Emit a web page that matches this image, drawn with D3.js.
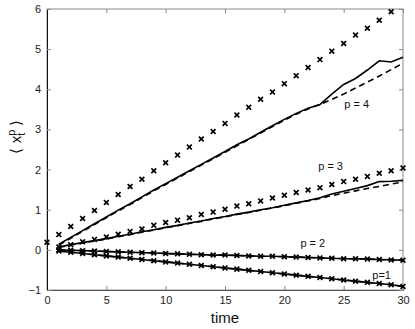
<!DOCTYPE html>
<html>
<head>
<meta charset="utf-8">
<script src="https://cdn.jsdelivr.net/npm/d3@7"></script>
<style>
  body { margin: 0; background: #ffffff; }
  text { font-family: "Liberation Sans", Arial, sans-serif; }
</style>
</head>
<body>
<div class="chart"></div>
<script>
// Values.
const timeSteps = d3.range(1, 31);
const crossTimesP4 = d3.range(0, 30);
const crossesP4 = [0.19, 0.38, 0.58, 0.78, 0.98, 1.18, 1.38, 1.58, 1.76, 1.97,
  2.17, 2.36, 2.56, 2.76, 2.95, 3.15, 3.36, 3.55, 3.75, 3.93,
  4.14, 4.34, 4.54, 4.74, 4.95, 5.14, 5.35, 5.52, 5.72, 5.93];
const crossesP3 = [0.07, 0.13, 0.20, 0.26, 0.32, 0.39, 0.46, 0.52, 0.61, 0.68,
  0.74, 0.80, 0.88, 0.94, 1.01, 1.09, 1.15, 1.22, 1.29, 1.36,
  1.43, 1.49, 1.55, 1.63, 1.70, 1.76, 1.83, 1.91, 1.97, 2.04];
const solidP4 = [0.14, 0.31, 0.48, 0.65, 0.82, 0.99, 1.15, 1.32, 1.49, 1.65,
  1.81, 1.97, 2.13, 2.29, 2.45, 2.62, 2.76, 2.93, 3.09, 3.25,
  3.40, 3.53, 3.62, 3.88, 4.12, 4.27, 4.48, 4.71, 4.68, 4.80];
const dashedP4 = [0.12, 0.29, 0.46, 0.63, 0.80, 0.97, 1.13, 1.30, 1.47, 1.63,
  1.79, 1.95, 2.11, 2.27, 2.43, 2.59, 2.75, 2.91, 3.07, 3.23,
  3.38, 3.51, 3.62, 3.75, 3.88, 4.03, 4.18, 4.33, 4.49, 4.65];
const solidP3 = [0.07, 0.13, 0.18, 0.23, 0.28, 0.34, 0.39, 0.45, 0.50, 0.56,
  0.61, 0.67, 0.72, 0.78, 0.83, 0.89, 0.94, 1.00, 1.05, 1.11,
  1.17, 1.23, 1.30, 1.39, 1.46, 1.53, 1.60, 1.70, 1.71, 1.73];
const dashedP3 = [0.06, 0.12, 0.17, 0.22, 0.27, 0.33, 0.38, 0.44, 0.49, 0.55,
  0.60, 0.66, 0.71, 0.77, 0.82, 0.88, 0.93, 0.99, 1.04, 1.10,
  1.16, 1.22, 1.28, 1.35, 1.41, 1.47, 1.53, 1.58, 1.64, 1.69];
const valuesP2 = [0.00, -0.01, -0.02, -0.03, -0.04, -0.05, -0.06, -0.07, -0.08, -0.09,
  -0.10, -0.11, -0.12, -0.13, -0.13, -0.14, -0.15, -0.16, -0.16, -0.17,
  -0.18, -0.19, -0.20, -0.21, -0.22, -0.22, -0.23, -0.24, -0.25, -0.26];
const valuesP1 = [-0.03, -0.06, -0.09, -0.12, -0.15, -0.18, -0.21, -0.24, -0.27, -0.30,
  -0.33, -0.36, -0.39, -0.42, -0.45, -0.48, -0.51, -0.54, -0.57, -0.60,
  -0.63, -0.66, -0.69, -0.72, -0.75, -0.78, -0.81, -0.84, -0.87, -0.91];
const xTicks = [0, 5, 10, 15, 20, 25, 30];
const yTicks = [-1, 0, 1, 2, 3, 4, 5, 6];
const curveLabels = [
  { text: "p = 4", t: 26.1, v: 3.53 },
  { text: "p = 3", t: 23.9, v: 1.98 },
  { text: "p = 2", t: 22.4, v: 0.07 },
  { text: "p=1", t: 28.2, v: -0.73 }
];

const width = 415, height = 329;
const margin = { top: 9, right: 12, bottom: 39, left: 47 };

const svg = d3.select(".chart")
  .append("svg")
  .attr("width", width)
  .attr("height", height)
  .attr("viewBox", [0, 0, width, height]);

const x = d3.scaleLinear().domain([0, 30]).range([margin.left, width - margin.right]);
const y = d3.scaleLinear().domain([-1, 6]).range([height - margin.bottom, margin.top]);

// Box around the plot area, MATLAB style.
svg.append("rect")
  .attr("x", x(0)).attr("y", y(6))
  .attr("width", x(30) - x(0))
  .attr("height", y(-1) - y(6))
  .attr("fill", "none")
  .attr("stroke", "#8a8a8a")
  .attr("stroke-width", 1);

// Axes with inward ticks on all four sides.
const tickLen = 4;
svg.append("g")
  .attr("transform", `translate(0,${y(-1)})`)
  .call(d3.axisBottom(x).tickValues(xTicks).tickSize(-tickLen).tickPadding(6).tickFormat(d3.format("d")))
  .call(g => g.select(".domain").attr("stroke", "#555"));
svg.append("g")
  .attr("transform", `translate(0,${y(6)})`)
  .call(d3.axisTop(x).tickValues(xTicks).tickSize(-tickLen).tickFormat(""))
  .call(g => g.select(".domain").remove());
svg.append("g")
  .attr("transform", `translate(${x(0)},0)`)
  .call(d3.axisLeft(y).tickValues(yTicks).tickSize(-tickLen).tickPadding(6)
    .tickFormat(d => d < 0 ? "\u2212" + Math.abs(d) : d))
  .call(g => g.select(".domain").attr("stroke", "#111"));
svg.append("g")
  .attr("transform", `translate(${x(30)},0)`)
  .call(d3.axisRight(y).tickValues(yTicks).tickSize(-tickLen).tickFormat(""))
  .call(g => g.select(".domain").remove());

svg.selectAll(".tick line").attr("stroke", "#8a8a8a");
svg.selectAll(".tick text")
  .attr("font-size", "11px")
  .attr("fill", "#222")
  .attr("font-family", "Liberation Sans, Arial, sans-serif");

// Solid and dashed curves.
const line = d3.line()
  .x((d, i) => x(timeSteps[i]))
  .y(d => y(d));
const curves = [
  { values: dashedP4, dash: "6,4" },
  { values: solidP4, dash: null },
  { values: dashedP3, dash: "6,4" },
  { values: solidP3, dash: null },
  { values: valuesP2, dash: "6,4" },
  { values: valuesP2, dash: null },
  { values: valuesP1, dash: "6,4" },
  { values: valuesP1, dash: null }
];
curves.forEach(c => {
  svg.append("path")
    .datum(c.values)
    .attr("fill", "none")
    .attr("stroke", "#000")
    .attr("stroke-width", 1.6)
    .attr("stroke-dasharray", c.dash)
    .attr("d", line);
});

// Cross markers.
const crossSets = [
  { times: crossTimesP4, values: crossesP4 },
  { times: timeSteps, values: crossesP3 },
  { times: timeSteps, values: valuesP2 },
  { times: timeSteps, values: valuesP1 }
];
const s = 2.4;
crossSets.forEach(set => {
  svg.append("g")
    .selectAll("path")
    .data(set.values)
    .join("path")
    .attr("transform", (d, i) => `translate(${x(set.times[i])},${y(d)})`)
    .attr("d", `M${-s},${-s}L${s},${s}M${-s},${s}L${s},${-s}`)
    .attr("stroke", "#000")
    .attr("stroke-width", 1.7)
    .attr("fill", "none");
});

// Curve labels.
svg.selectAll(".curveLabel")
  .data(curveLabels)
  .join("text")
  .attr("class", "curveLabel")
  .attr("x", d => x(d.t))
  .attr("y", d => y(d.v))
  .attr("text-anchor", "middle")
  .attr("font-size", "11px")
  .attr("fill", "#111")
  .text(d => d.text);

// Axis titles.
svg.append("text")
  .attr("x", 225)
  .attr("y", 323)
  .attr("text-anchor", "middle")
  .attr("font-size", "15px")
  .attr("fill", "#111")
  .text("time");

const yTitle = svg.append("text")
  .attr("transform", "translate(21,137) rotate(-90)")
  .attr("text-anchor", "middle")
  .attr("font-size", "15px")
  .attr("fill", "#111");
yTitle.append("tspan").text("\u27E8 x");
yTitle.append("tspan").attr("font-size", "11px").attr("dy", -6).text("p");
yTitle.append("tspan").attr("font-size", "11px").attr("dx", -6).attr("dy", 10).text("t");
yTitle.append("tspan").attr("dy", -4).attr("dx", 2).text(" \u27E9");
</script>
</body>
</html>
